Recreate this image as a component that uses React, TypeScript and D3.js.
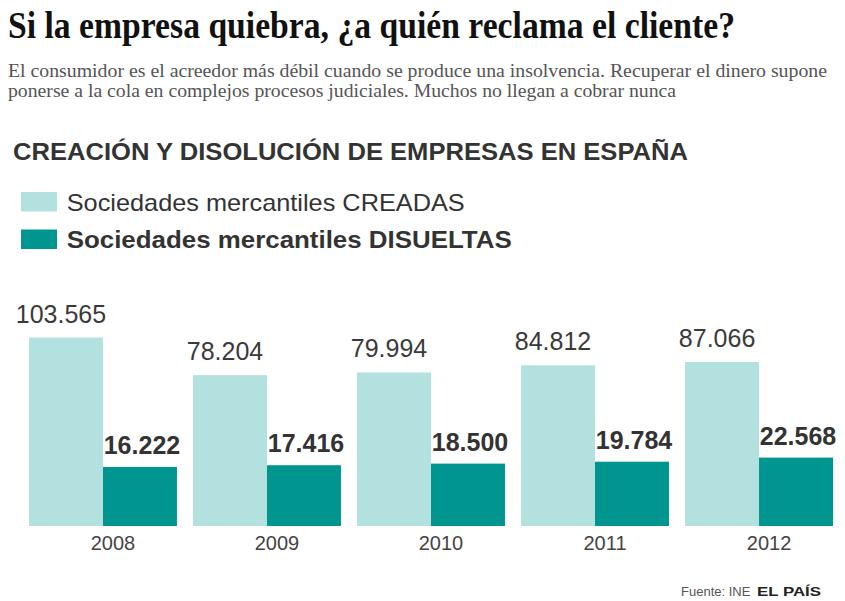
import React from "react";
import * as d3 from "d3";

// Data: companies created vs. dissolved in Spain, 2008-2012
const years = ["2008", "2009", "2010", "2011", "2012"];
const creadas = [103565, 78204, 79994, 84812, 87066];
const disueltas = [16222, 17416, 18500, 19784, 22568];
const seriesKeys = ["creadas", "disueltas"];
const legendLabels = ["Sociedades mercantiles CREADAS", "Sociedades mercantiles DISUELTAS"];

const title = "Si la empresa quiebra, ¿a quién reclama el cliente?";
const subtitleLines = [
  "El consumidor es el acreedor más débil cuando se produce una insolvencia. Recuperar el dinero supone",
  "ponerse a la cola en complejos procesos judiciales. Muchos no llegan a cobrar nunca",
];
const heading = "CREACIÓN Y DISOLUCIÓN DE EMPRESAS EN ESPAÑA";

const W = 845;
const H = 601;
const LIGHT = "#b3e1df";
const DARK = "#00958e";
const SANS = "'Liberation Sans', Arial, sans-serif";
const SERIF = "'Liberation Serif', 'Times New Roman', serif";

const fmt = (v: number) => d3.format(",")(v).replace(/,/g, ".");

export default function App() {
  const baseline = 526;
  const x0 = d3.scaleBand<string>().domain(years).range([29, 833]).paddingInner(0.098).paddingOuter(0);
  const x1 = d3.scaleBand<string>().domain(seriesKeys).range([0, x0.bandwidth()]).padding(0);
  // Bars grow from a floor below zero so the small values stay readable
  const y = d3.scaleLinear().domain([-23600, 110000]).range([baseline, 328]);
  const colors = d3.scaleOrdinal<string, string>().domain(seriesKeys).range([LIGHT, DARK]);

  const rows = years.map((yr, i) => ({ year: yr, creadas: creadas[i], disueltas: disueltas[i] }));

  return (
    <svg
      width={W}
      height={H}
      viewBox={`0 0 ${W} ${H}`}
      style={{ position: "absolute", left: 0, top: 0, display: "block", background: "#fff" }}
    >
      <rect x={0} y={0} width={W} height={H} fill="#fff" />
      <text x={8} y={38} fontFamily={SERIF} fontWeight={700} fontSize={37} fill="#111"
        textLength={727} lengthAdjust="spacingAndGlyphs">
        {title}
      </text>
      {subtitleLines.map((line, i) => (
        <text key={i} x={8} y={77 + i * 20} fontFamily={SERIF} fontSize={19} fill="#555"
          textLength={i === 0 ? 819 : 668} lengthAdjust="spacingAndGlyphs">
          {line}
        </text>
      ))}

      <text x={13} y={159.5} fontFamily={SANS} fontWeight={700} fontSize={24} fill="#333"
        textLength={675} lengthAdjust="spacingAndGlyphs">
        {heading}
      </text>

      {/* Legend */}
      {seriesKeys.map((k, i) => (
        <g key={k} transform={`translate(21, ${192 + i * 37.5})`}>
          <rect x={0} y={0} width={36} height={19.5} fill={colors(k)} />
          <text x={45.7} y={18.5} fontFamily={SANS} fontSize={24} fontWeight={i === 1 ? 700 : 400}
            fill="#333" textLength={i === 0 ? 398 : 445} lengthAdjust="spacingAndGlyphs">
            {legendLabels[i]}
          </text>
        </g>
      ))}

      {/* Grouped bars */}
      {rows.map((r) => {
        const gx = x0(r.year) as number;
        return (
          <g key={r.year} transform={`translate(${gx},0)`}>
            {seriesKeys.map((k) => {
              const v = (r as any)[k] as number;
              const bx = x1(k) as number;
              const top = y(v);
              const isDark = k === "disueltas";
              return (
                <g key={k}>
                  <rect x={bx} y={top} width={x1.bandwidth()} height={baseline - top} fill={colors(k)} />
                  <text
                    x={bx + x1.bandwidth() / 2 + (isDark ? 2 : -5)}
                    y={top - (isDark ? 13 : 15)}
                    textAnchor="middle"
                    fontFamily={SANS}
                    fontSize={25}
                    fontWeight={isDark ? 700 : 400}
                    fill={isDark ? "#333" : "#3a3a3a"}
                  >
                    {fmt(v)}
                  </text>
                </g>
              );
            })}
            <text x={x0.bandwidth() / 2 + 10} y={549.5} textAnchor="middle" fontFamily={SANS}
              fontSize={20} fill="#444">
              {r.year}
            </text>
          </g>
        );
      })}

      {/* Source */}
      <text x={681} y={596} fontFamily={SANS} fontSize={13} fill="#555">Fuente: INE</text>
      <text x={757} y={596} fontFamily={SANS} fontSize={13.5} fontWeight={700} fill="#222"
        textLength={64} lengthAdjust="spacingAndGlyphs">EL PAÍS</text>
    </svg>
  );
}
